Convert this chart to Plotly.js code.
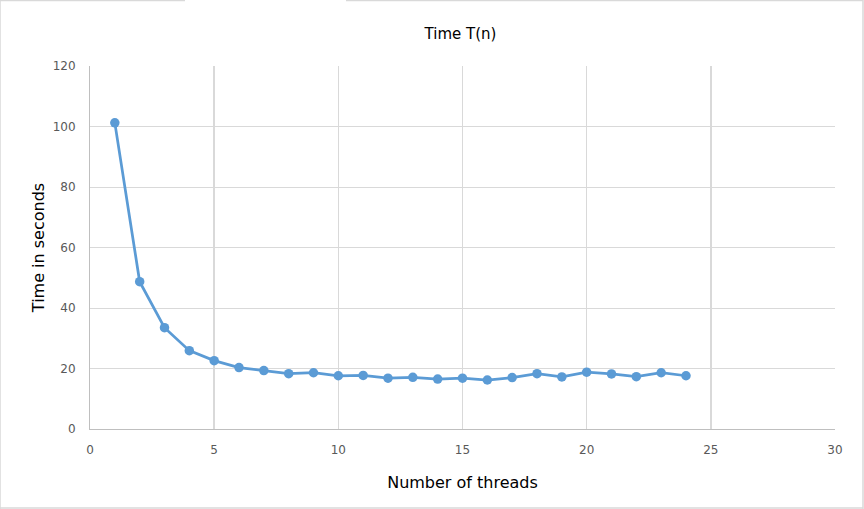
<!DOCTYPE html>
<html>
<head>
<meta charset="utf-8">
<script src="https://cdn.plot.ly/plotly-3.0.1.min.js"></script>
<style>html,body{margin:0;padding:0;background:#fff;}#chart{width:864px;height:509px;}</style>
</head>
<body>
<div id="chart"></div>
<script>
const threads = [1,2,3,4,5,6,7,8,9,10,11,12,13,14,15,16,17,18,19,20,21,22,23,24];
const seconds = [101.2,48.7,33.5,25.9,22.6,20.3,19.3,18.3,18.6,17.6,17.7,16.8,17.1,16.5,16.8,16.2,17.0,18.3,17.2,18.8,18.2,17.3,18.6,17.6];
const chartTitle = "Time T(n)";
const xTitle = "Number of threads";
const yTitle = "Time in seconds";

const font = "Verdana, 'DejaVu Sans', sans-serif";
const data = [{
  x: threads, y: seconds, type: "scatter", mode: "lines+markers",
  line: {color: "#5b9bd5", width: 2.75},
  marker: {color: "#5b9bd5", size: 9.5},
  hoverinfo: "x+y"
}];
const bc = "#d9d9d9";
const layout = {
  width: 864, height: 509,
  margin: {l: 90, r: 29, t: 66, b: 80},
  paper_bgcolor: "#fff", plot_bgcolor: "#fff",
  showlegend: false,
  title: {text: chartTitle, x: 0.533, xanchor: "center", y: 0.933, yanchor: "middle",
          font: {family: font, size: 15, color: "#000"}},
  xaxis: {
    range: [0, 30], dtick: 5, tick0: 0,
    showgrid: true, gridcolor: "#d9d9d9", gridwidth: 1.5,
    showline: true, linecolor: "#bfbfbf", linewidth: 1,
    zeroline: false, ticks: "",
    ticklabelstandoff: 10,
    tickfont: {family: font, size: 12, color: "#595959"},
    title: {text: xTitle, font: {family: font, size: 16, color: "#000"}, standoff: 20}
  },
  yaxis: {
    range: [0, 120], dtick: 20, tick0: 0,
    showgrid: true, gridcolor: "#d9d9d9", gridwidth: 1,
    showline: true, linecolor: "#bfbfbf", linewidth: 1,
    zeroline: false, ticks: "",
    ticklabelstandoff: 11,
    tickfont: {family: font, size: 12, color: "#595959"},
    title: {text: yTitle, font: {family: font, size: 16, color: "#000"}, standoff: 4}
  },
  shapes: [
    {type: "line", xref: "paper", yref: "paper", x0: -90/745, x1: -90/745, y0: -80/363, y1: 66/363+1, line: {color: bc, width: 1.5}},
    {type: "line", xref: "paper", yref: "paper", x0: 1+28/745, x1: 1+28/745, y0: -80/363, y1: 66/363+1, line: {color: bc, width: 1.5}},
    {type: "line", xref: "paper", yref: "paper", x0: -90/745, x1: 1+28/745, y0: -79/363, y1: -79/363, line: {color: bc, width: 1.5}},
    {type: "line", xref: "paper", yref: "paper", x0: -90/745, x1: (185-90)/745, y0: 1+65.5/363, y1: 1+65.5/363, line: {color: bc, width: 1.5}},
    {type: "line", xref: "paper", yref: "paper", x0: (346-90)/745, x1: 1+28/745, y0: 1+65.5/363, y1: 1+65.5/363, line: {color: bc, width: 1.5}}
  ]
};
Plotly.newPlot("chart", data, layout, {displayModeBar: false, staticPlot: true});
</script>
</body>
</html>
